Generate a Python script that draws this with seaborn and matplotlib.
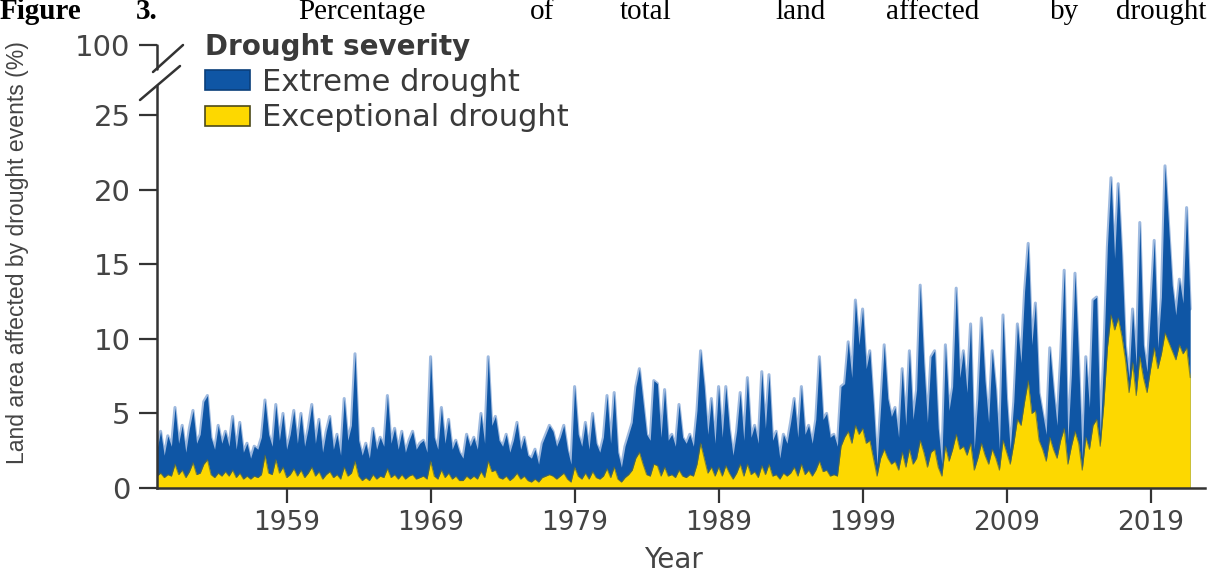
import numpy as np
import pandas as pd
import matplotlib
matplotlib.use("Agg")
import matplotlib.pyplot as plt
import matplotlib.transforms as mtransforms
from matplotlib.lines import Line2D
from matplotlib.patches import Patch
import seaborn as sns

# Quarterly readings of % land area in drought, 1950 Q1 .. 2021 Q4 (one row = one year)
extreme_pct = [
    2.6, 3.8, 2.2, 3.5,   2.8, 5.4, 3.0, 4.2,   2.4, 4.0, 5.2, 3.0,   3.6, 5.8, 6.2, 3.4,   2.6, 4.2, 3.0, 3.8,
    2.8, 4.8, 2.6, 4.4,   2.4, 3.0, 2.0, 2.8,   2.6, 3.4, 5.9, 3.6,   2.8, 5.6, 3.2, 5.0,   2.6, 3.6, 5.2, 3.0,
    5.0, 2.8, 4.0, 5.6,   3.0, 4.6, 2.4, 3.8,   4.8, 2.6, 3.6, 2.2,   6.0, 3.2, 4.2, 9.0,   3.2, 2.2, 3.0, 2.0,
    4.0, 2.6, 3.4, 2.8,   6.2, 3.0, 4.0, 2.6,   3.8, 2.4, 3.2, 3.8,   2.6, 3.0, 3.2, 2.4,   8.8, 3.4, 2.6, 5.4,
    3.0, 4.6, 2.6, 3.2,   2.4, 2.0, 3.6, 2.8,   3.4, 2.6, 5.0, 3.0,   8.8, 4.2, 4.8, 3.2,   2.8, 3.6, 2.4, 3.2,
    4.4, 2.6, 3.4, 2.2,   2.0, 2.6, 1.6, 3.0,   3.6, 4.2, 3.8, 2.8,   3.4, 4.2, 2.6, 1.6,   6.8, 3.6, 2.8, 4.4,
    2.6, 5.0, 3.0, 2.4,   3.4, 6.2, 3.0, 6.4,   2.4, 1.4, 2.8, 3.6,   4.4, 6.8, 8.0, 5.8,   3.6, 3.2, 7.2, 7.0,
    3.4, 6.6, 3.2, 3.6,   2.8, 5.6, 3.4, 3.0,   3.6, 2.8, 5.2, 9.2,   6.8, 3.6, 6.0, 3.0,   6.8, 3.4, 6.8, 4.0,
    2.2, 3.8, 6.4, 3.2,   7.4, 3.4, 4.2, 3.0,   7.8, 4.0, 7.6, 3.2,   3.8, 2.0, 3.6, 3.0,   4.4, 6.0, 3.4, 6.8,
    3.6, 4.2, 3.0, 4.6,   8.8, 4.6, 5.0, 3.4,   3.6, 2.8, 6.8, 7.0,   9.8, 7.4, 12.6, 9.6,  12.0, 8.0, 9.2, 5.6,
    1.6, 5.4, 9.6, 6.0,   4.8, 5.4, 3.4, 8.0,   4.2, 9.2, 4.6, 6.6,   13.6, 8.4, 4.4, 8.8,  9.2, 4.0, 1.6, 9.6,
    5.2, 6.8, 13.4, 7.4,  9.2, 6.4, 11.0, 2.6,  6.0, 11.4, 7.2, 4.4,  9.2, 6.6, 2.6, 11.6,  6.0, 2.6, 5.8, 11.0,
    8.4, 13.2, 16.4, 9.6, 12.4, 6.4, 5.0, 3.6,  9.4, 6.6, 4.2, 8.8,   14.6, 3.2, 7.6, 14.4, 8.6, 2.0, 8.8, 5.4,
    12.6, 12.8, 3.6, 9.0, 16.2, 20.8, 15.4, 20.4, 15.6, 9.6, 7.4, 12.0, 8.2, 17.8, 9.6, 7.8, 12.0, 16.6, 9.4, 12.8,
    21.6, 17.6, 13.6, 11.6, 14.0, 12.4, 18.8, 12.0,
]
exceptional_pct = [
    0.8, 1.0, 0.7, 0.9,   0.8, 1.6, 0.9, 1.2,   0.7, 1.1, 1.7, 0.9,   1.0, 1.6, 1.9, 0.9,   0.7, 1.0, 0.8, 1.1,
    0.8, 1.2, 0.7, 1.0,   0.6, 0.8, 0.6, 0.8,   0.7, 0.9, 2.2, 1.0,   0.9, 1.9, 1.0, 1.4,   0.7, 0.9, 1.3, 0.8,
    1.2, 0.7, 1.0, 1.4,   0.8, 1.1, 0.6, 0.9,   1.1, 0.7, 0.9, 0.6,   1.4, 0.8, 1.0, 1.8,   0.8, 0.5, 0.7, 0.5,
    0.9, 0.6, 0.8, 0.7,   1.3, 0.7, 0.9, 0.6,   0.9, 0.6, 0.8, 0.9,   0.6, 0.7, 0.8, 0.6,   1.8, 0.8, 0.6, 1.2,
    0.7, 1.0, 0.6, 0.8,   0.5, 0.5, 0.8, 0.6,   0.8, 0.6, 1.1, 0.7,   1.8, 1.1, 1.2, 0.7,   0.6, 0.8, 0.5, 0.7,
    1.0, 0.6, 0.8, 0.5,   0.4, 0.6, 0.4, 0.7,   0.8, 0.9, 0.8, 0.6,   0.8, 1.0, 0.6, 0.4,   1.4, 0.8, 0.6, 1.0,
    0.6, 1.1, 0.7, 0.6,   0.8, 1.3, 0.7, 1.4,   0.6, 0.4, 0.7, 0.9,   1.2, 2.0, 2.4, 1.6,   0.9, 0.8, 1.6, 1.5,
    0.8, 1.4, 0.8, 0.9,   0.7, 1.2, 0.8, 0.7,   0.9, 0.8, 1.6, 3.0,   2.0, 1.0, 1.4, 0.8,   1.4, 0.8, 1.5, 1.0,
    0.6, 1.0, 1.6, 0.8,   1.6, 0.9, 1.1, 0.7,   1.5, 0.9, 1.6, 0.8,   0.9, 0.6, 1.0, 0.8,   1.0, 1.4, 0.8, 1.6,
    0.9, 1.2, 0.8, 1.2,   1.8, 1.1, 1.2, 0.8,   0.9, 0.8, 2.8, 3.4,   3.8, 3.0, 4.2, 3.6,   4.0, 3.0, 3.2, 2.0,
    0.8, 2.0, 2.6, 2.0,   1.6, 1.8, 1.2, 2.4,   1.4, 2.6, 1.6, 2.0,   3.2, 2.4, 1.4, 2.4,   2.6, 1.4, 0.8, 2.8,
    1.8, 2.6, 3.6, 2.6,   2.8, 2.2, 3.0, 1.2,   2.0, 3.0, 2.2, 1.6,   2.6, 2.0, 1.2, 3.2,   2.4, 1.6, 3.0, 4.6,
    4.2, 5.8, 7.2, 5.0,   5.2, 3.2, 2.6, 1.8,   3.4, 2.6, 2.0, 3.2,   4.0, 1.6, 2.8, 3.8,   3.0, 1.2, 3.4, 2.6,
    4.2, 4.6, 2.8, 5.6,   9.4, 11.6, 10.6, 11.4, 10.2, 8.6, 6.4, 8.4, 6.2, 8.8, 7.4, 6.4,   8.0, 9.4, 8.0, 9.0,
    10.4, 9.8, 9.2, 8.6,  9.6, 9.0, 9.4, 7.4,
]
year_ticks = [1959, 1969, 1979, 1989, 1999, 2009, 2019]
pct_ticks = [0, 5, 10, 15, 20, 25]
legend_labels = ["Extreme drought", "Exceptional drought"]

BLUE = "#0f56a5"
LIGHT_BLUE = "#9fbadf"
YELLOW = "#fdd800"
EDGE = "#5c6b3a"
INK = "#333333"

df = pd.DataFrame({
    "Year": 1950 + np.arange(len(extreme_pct)) / 4,
    "Extreme": extreme_pct,
    "Exceptional": exceptional_pct,
})

sns.set_style("ticks")
plt.rcParams["font.family"] = ["DejaVu Sans"]

W, H = 1208, 573
fig = plt.figure(figsize=(W / 100, H / 100), dpi=100)
ax = fig.add_axes([157 / W, 1 - 488 / H, 1048 / W, 443 / H])

# areas
sns.lineplot(data=df, x="Year", y="Extreme", color=LIGHT_BLUE, lw=2.2, ax=ax, zorder=1)
ax.fill_between(df["Year"], 0, df["Extreme"], color=BLUE, lw=0, zorder=2)
ax.fill_between(df["Year"], 0, df["Exceptional"], color=YELLOW, lw=0, zorder=3)
sns.lineplot(data=df, x="Year", y="Exceptional", color=EDGE, lw=0.8, alpha=0.7, ax=ax, zorder=4)

top_val = 29.7
ax.set_xlim(1950, 1950 + 1048 / 14.4)
ax.set_ylim(0, top_val)
ax.set_xticks(year_ticks)
ax.set_xticklabels([str(y) for y in year_ticks])
ax.set_yticks(pct_ticks + [top_val])
ax.set_yticklabels([str(v) for v in pct_ticks] + ["100"])
ax.set_xlabel("")
ax.set_ylabel("")

for side in ["top", "right"]:
    ax.spines[side].set_visible(False)
for side in ["left", "bottom"]:
    ax.spines[side].set_linewidth(1.8)
    ax.spines[side].set_color(INK)
    ax.spines[side].set_zorder(6)
ax.spines["left"].set_bounds(0, 26.95)

ax.tick_params(axis="y", length=13, width=1.6, pad=6, labelsize=21, color=INK, labelcolor="#444444")
ax.tick_params(axis="x", length=11, width=1.6, pad=5, labelsize=19, color=INK, labelcolor="#444444")

# broken axis: upper stub plus two slashes
trans = mtransforms.blended_transform_factory(ax.transAxes, ax.transData)
ax.plot([0, 0], [28.1, top_val], transform=trans, color=INK, lw=1.8, clip_on=False, zorder=6)
for (x0, y0), (x1, y1) in [((140, 100), (180, 66)), ((153, 72), (183, 45))]:
    fig.add_artist(Line2D([x0 / W, x1 / W], [1 - y0 / H, 1 - y1 / H], color=INK, lw=1.8))

# legend
handles = [Patch(facecolor=BLUE, edgecolor="#0b3f7a", lw=1.2),
           Patch(facecolor=YELLOW, edgecolor="#4d4a1a", lw=1.2)]
leg = ax.legend(handles, legend_labels, title="Drought severity", loc="upper left",
                bbox_to_anchor=(205 / W, 1 - 33 / H), bbox_transform=fig.transFigure,
                frameon=False, fontsize=22, borderpad=0, borderaxespad=0,
                handlelength=1.47, handleheight=0.65, handletextpad=0.4, labelspacing=0.22,
                alignment="left")
leg.get_title().set_fontweight("bold")
leg.get_title().set_fontsize(20)
leg.get_title().set_color("#3a3a3a")
for t in leg.get_texts():
    t.set_color("#3a3a3a")

# axis titles
fig.text(18 / W, 1 - 253 / H, "Land area affected by drought events (%)", rotation=90,
         ha="center", va="center", fontsize=16.6, color="#444444",
         family=["Liberation Sans", "DejaVu Sans"])
fig.text(673 / W, 1 - 560 / H, "Year", ha="center", va="center", fontsize=20, color="#444444")

# caption line, justified word by word
caption = [("Figure", 0, "left", "bold"), ("3.", 136, "left", "bold"),
           ("Percentage", 298, "left", "normal"), ("of", 530, "left", "normal"),
           ("total", 620, "left", "normal"), ("land", 775, "left", "normal"),
           ("affected", 886, "left", "normal"), ("by", 1050, "left", "normal"),
           ("drought", 1206, "right", "normal")]
for word, x, align, weight in caption:
    fig.text(x / W, 1 - 19 / H, word, ha=align, va="baseline", fontsize=21,
             fontweight=weight, family=["Liberation Serif", "DejaVu Serif"], color="black")

fig.savefig("out.png", dpi=100)
